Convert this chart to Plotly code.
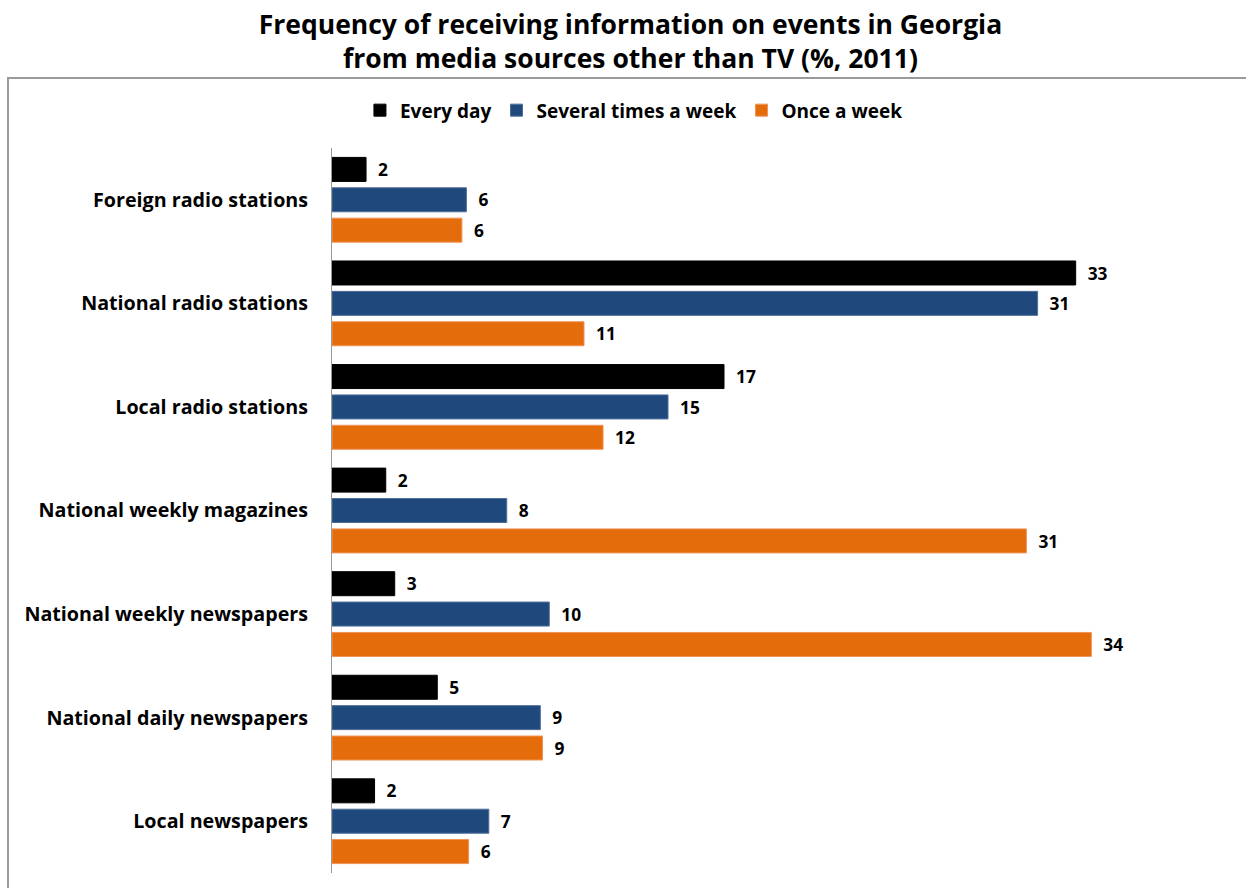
import plotly.graph_objects as go

categories = ["Foreign radio stations", "National radio stations", "Local radio stations",
              "National weekly magazines", "National weekly newspapers",
              "National daily newspapers", "Local newspapers"]
series_names = ["Every day", "Several times a week", "Once a week"]
every_day = [1.52, 33.2, 17.5, 2.4, 2.8, 4.7, 1.9]
several_times = [6.0, 31.5, 15.0, 7.8, 9.7, 9.3, 7.0]
once_a_week = [5.8, 11.25, 12.1, 31.0, 33.9, 9.4, 6.1]
every_day_labels = [2, 33, 17, 2, 3, 5, 2]
several_labels = [6, 31, 15, 8, 10, 9, 7]
once_labels = [6, 11, 12, 31, 34, 9, 6]
colors = ["#000000", "#1F497D", "#E46C0A"]
line_colors = ["#000000", "#4F6E99", "#F0935A"]

FONT = "Open Sans"

fig = go.Figure()
for name, vals, labels, c, lc in zip(series_names,
                                     [every_day, several_times, once_a_week],
                                     [every_day_labels, several_labels, once_labels],
                                     colors, line_colors):
    fig.add_trace(go.Bar(
        y=categories, x=vals, name=name, orientation="h",
        marker=dict(color=c, line=dict(color=lc, width=1)),
        text=["  " + str(v) for v in labels], textposition="outside",
        textfont=dict(family=FONT, size=19.5, color="black", weight="bold"),
        cliponaxis=False,
    ))

fig.update_layout(
    width=1246, height=888,
    margin=dict(l=332, r=18, t=148, b=15),
    paper_bgcolor="white", plot_bgcolor="white",
    barmode="group", bargap=0.12, bargroupgap=0.21,
    font=dict(family=FONT, size=19, color="black", weight="bold"),
    title=dict(text="Frequency of receiving information on events in Georgia<br>from media sources other than TV (%, 2011)",
               x=0.506, xanchor="center", y=0.962, yanchor="middle",
               font=dict(family=FONT, size=26.5, color="black", weight="bold")),
    legend=dict(orientation="h", x=0.337, xanchor="center", y=1.052, yanchor="middle",
                font=dict(family=FONT, size=19, color="black", weight="bold"),
                bgcolor="rgba(0,0,0,0)", itemwidth=30, traceorder="normal"),
    xaxis=dict(range=[0, 40], showgrid=False, zeroline=False, showticklabels=False,
               showline=False, fixedrange=True),
    yaxis=dict(autorange="reversed", showgrid=False, showline=True, linecolor="#999999",
               linewidth=1, ticks="", ticklabelstandoff=19,
               tickfont=dict(family=FONT, size=19.7, color="black", weight="bold")),
    shapes=[dict(type="rect", xref="paper", yref="paper",
                 x0=-0.3616, x1=1.2, y0=-0.2, y1=1.0966,
                 line=dict(color="#9a9a9a", width=2), fillcolor="rgba(0,0,0,0)", layer="below")],
)

fig.write_html("out.html")
